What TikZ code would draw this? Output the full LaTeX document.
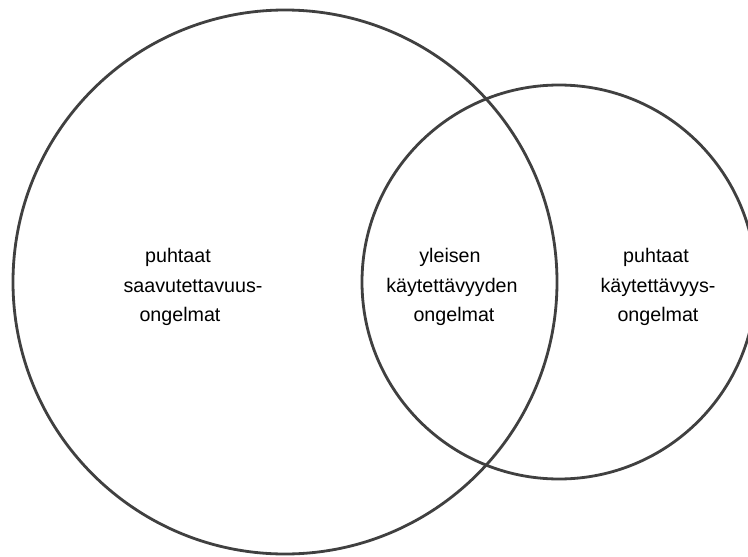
\documentclass[tikz,border=0pt]{standalone}
\usepackage{fontspec}
\setmainfont{Liberation Sans}

\definecolor{viiva}{HTML}{404040}

\begin{document}
\begin{tikzpicture}[x=0.02cm, y=0.02cm,
    ympyra/.style={draw=viiva, line width=1.6pt},
    teksti/.style={anchor=base, inner sep=0pt, font=\fontsize{11.2}{13}\selectfont}]

      \useasboundingbox (0, 0) rectangle (748, 556);
      \clip (0, 0) rectangle (748, 556);

      \draw[ympyra] (285, 274) circle[radius=272];
      \draw[ympyra] (559, 274) circle[radius=197];

      \node[teksti] (saav1) at (178, 294) {puhtaat};
      \node[teksti] (saav2) at (193, 264) {saavutettavuus-};
      \node[teksti] (saav3) at (180, 235) {ongelmat};

      \node[teksti] (yht1) at (450, 294) {yleisen};
      \node[teksti] (yht2) at (452, 264) {käytettävyyden};
      \node[teksti] (yht3) at (454, 235) {ongelmat};

      \node[teksti] (kayt1) at (656, 294) {puhtaat};
      \node[teksti] (kayt2) at (658, 264) {käytettävyys-};
      \node[teksti] (kayt3) at (658, 235) {ongelmat};

    \end{tikzpicture}
\end{document}
